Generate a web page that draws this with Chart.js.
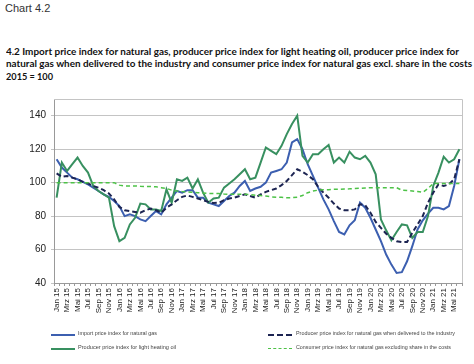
<!DOCTYPE html>
<html>
<head>
<meta charset="utf-8">
<script src="https://cdn.jsdelivr.net/npm/chart.js@4.4.1/dist/chart.umd.min.js"></script>
<style>
body { margin:0; width:474px; height:364px; background:#fff; position:relative; overflow:hidden; font-family:"Liberation Sans", Arial, sans-serif; }
.t { position:absolute; white-space:nowrap; transform-origin:0 50%; }
#head { left:5px; top:2px; font-size:11px; color:#333; }
.tl { left:6px; font-family:Lato, "Open Sans", sans-serif; font-weight:bold; font-size:10px; color:#111; }
#wrap { position:absolute; left:0; top:88px; width:474px; height:244px; }
.lg { position:absolute; font-size:6px; color:#444; white-space:nowrap; transform-origin:0 50%; }
.ln { position:absolute; width:24px; height:0; }
</style>
</head>
<body>
<div id="head" class="t">Chart 4.2</div>
<div class="t tl" style="top:45px" data-w="453">4.2 Import price index for natural gas, producer price index for light heating oil, producer price index for</div>
<div class="t tl" style="top:57px" data-w="466">natural gas when delivered to the industry and consumer price index for natural gas excl. share in the costs</div>
<div class="t tl" style="top:70px" data-w="47">2015 = 100</div>
<div id="wrap"><canvas id="c"></canvas></div>

<div class="ln" style="left:51px;top:334px;border-top:2px solid #3c5fb0"></div>
<div class="lg" style="left:78px;top:330px" data-w="79">Import price index for natural gas</div>
<div class="ln" style="left:268px;top:334px;border-top:2px dashed #1c2452"></div>
<div class="lg" style="left:296px;top:330px" data-w="159">Producer price index for natural gas when delivered to the industry</div>
<div class="ln" style="left:51px;top:348px;border-top:2px solid #389060"></div>
<div class="lg" style="left:78px;top:344px" data-w="98">Producer price index for light heating oil</div>
<div class="ln" style="left:268px;top:348px;border-top:1.5px dashed #4dc247"></div>
<div class="lg" style="left:296px;top:344px" data-w="155">Consumer price index for natural gas excluding share in the costs</div>

<script>
// months Jan 15 .. Jun 21
var monthNames = ['Jan','Feb','Mrz','Apr','Mai','Jun','Jul','Aug','Sep','Okt','Nov','Dez'];
var years = ['15','16','17','18','19','20','21'];
var lastMonth = 6; // Jun 21

var importGas = [114,109,106,103,102,100.5,99,97,95,93,91.5,89,
  86,80,81,80,78,77,80,83,81,87,91,95,
  94,95.5,95.5,91,91,88,87,86,89,92,94,98,
  101,95,96.5,97.5,100,106,107,108,112,124,126,120,
  111,104,97,90,84,77,70.5,69,74.5,77.5,88,85,
  79,72,65,57,51,46,46.5,53,62,72,77.5,81.5,
  85,85,84,86,98,114];

var heatingOil = [91,112,107,111,115,110,106,98,95,93,91,74,
  65,67,75,79,87.5,87,84,84,83,96,88,102,
  101,103,96.5,102,94,88,90.5,91,97,99.5,102,105,
  108,102,103,112,121,119,117,122,129,135,140,116,
  112,117,117,120,122.5,112,115,112,118.5,115,114,116,
  112,105,78,71.5,65.5,70.5,75,74.5,67,70.5,70.5,80,
  98,106,115.5,112,114,120];

var ppiIndustry = [105.5,103.5,104,103,102,100.5,99.5,98,97,95.5,93.5,90,
  85.5,83.5,83,82.5,82,83.5,84.5,83.5,82,85,87,89.5,
  91.5,92.3,91.5,90.5,89.5,88.5,87.8,88,89.5,90.5,91,92,
  93,92,91,93,94.5,95.5,96.5,98.5,101,104.5,108,106.5,
  104.5,102,97.5,94,91,87.5,84.5,83.5,83.5,84,87,86.5,
  82,76.5,73,69.5,67,65,64.5,64.5,70,75,80,88,
  94,99,98,99,102,114];

var cpiGas = [100,100,100,100,100,100,100,100,100,100,100,100,
  98.5,98,98,98,97.8,97.7,97.7,97.5,97,96.5,95.5,95,
  94.7,94.5,94.2,94,93.8,93.5,93.5,93.5,93.2,93,93,93,
  93,92.8,92.5,92.3,92,91.5,91.3,91.2,91,91,91.3,92.3,
  94,95,95.5,95.7,95.8,96,96,96.2,96.3,96.5,96.6,96.8,
  97,97,97,97,97,97,95.5,95.3,95,94.7,94.2,96.5,
  99.5,99.5,99.5,99.5,99.5,99.5];

var yTicks = [40,60,80,100,120,140];

var labels = [];
for (var y = 0; y < years.length; y++) {
  for (var m = 0; m < 12; m++) {
    if (y == years.length - 1 && m >= lastMonth) break;
    labels.push(monthNames[m] + ' ' + years[y]);
  }
}

// shrink/stretch texts to the width they have in the original
var els = document.querySelectorAll('[data-w]');
for (var i = 0; i < els.length; i++) {
  var w = els[i].getBoundingClientRect().width;
  els[i].style.transform = 'scaleX(' + (els[i].getAttribute('data-w') / w) + ')';
}

var frame = {
  id: 'frame',
  afterDraw: function(chart) {
    var a = chart.chartArea, ctx = chart.ctx;
    ctx.save();
    ctx.strokeStyle = '#c4c4c4';
    ctx.lineWidth = 1;
    ctx.beginPath();
    ctx.moveTo(a.left, Math.round(a.top) + 0.5);
    ctx.lineTo(Math.round(a.right) + 0.5, Math.round(a.top) + 0.5);
    ctx.lineTo(Math.round(a.right) + 0.5, a.bottom);
    ctx.stroke();
    ctx.restore();
  }
};

new Chart(document.getElementById('c'), {
  type: 'line',
  data: {
    labels: labels,
    datasets: [
      { label: 'Consumer price index for natural gas excluding share in the costs', data: cpiGas, borderColor: '#4dc247', borderWidth: 1.5, borderDash: [4,3] },
      { label: 'Producer price index for natural gas when delivered to the industry', data: ppiIndustry, borderColor: '#1c2452', borderWidth: 2, borderDash: [5,3] },
      { label: 'Producer price index for light heating oil', data: heatingOil, borderColor: '#389060', borderWidth: 2 },
      { label: 'Import price index for natural gas', data: importGas, borderColor: '#3c5fb0', borderWidth: 2 }
    ]
  },
  options: {
    animation: false,
    responsive: true,
    maintainAspectRatio: false,
    layout: { padding: { top: 10, right: 12, left: 0, bottom: 0 } },
    elements: { point: { radius: 0 }, line: { tension: 0, fill: false } },
    plugins: { legend: { display: false }, tooltip: { enabled: false } },
    scales: {
      x: {
        offset: true,
        grid: { offset: true, drawOnChartArea: false, tickLength: 3, color: '#999' },
        border: { color: '#999' },
        ticks: {
          autoSkip: false, minRotation: 90, maxRotation: 90, padding: 2,
          color: '#222', font: { size: 8, family: 'Liberation Sans' },
          callback: function(v, i) { return i % 2 == 0 ? labels[i] : ''; }
        },
        afterFit: function(s) { s.height = 49; }
      },
      y: {
        min: 40, max: 150,
        afterBuildTicks: function(s) { s.ticks = yTicks.map(function(v) { return { value: v }; }); },
        grid: { color: '#c4c4c4', tickLength: 3 },
        border: { color: '#999' },
        ticks: { padding: 5, color: '#222', font: { size: 10, family: 'Liberation Sans' } },
        afterFit: function(s) { s.width = 54; }
      }
    }
  },
  plugins: [frame]
});
</script>
</body>
</html>
